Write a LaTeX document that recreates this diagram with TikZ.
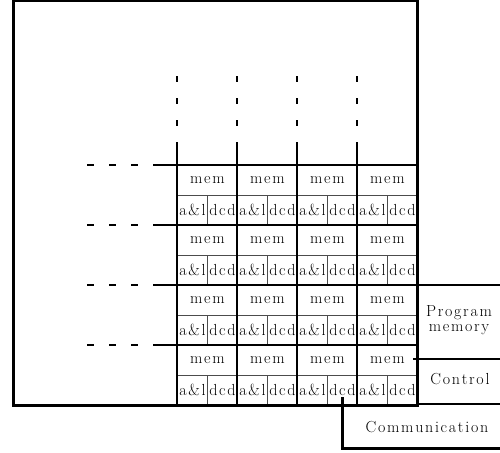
\documentclass[tikz,border=0pt]{standalone}
% spread the letters of a word apart
\newcommand\spreadword[1]{\spreadloop#1\relax}
\def\spreadloop#1{\ifx#1\relax\unkern\else#1\kern1.7pt\expandafter\spreadloop\fi}
\begin{document}
\begin{tikzpicture}[x=1pt,y=-1pt,
  txt/.style={font=\fontsize{16}{16}\selectfont},
  cellbox/.style={draw=black!70,line width=0.8pt,inner sep=0pt,anchor=north west,txt},
  memcell/.style={cellbox,minimum width=60pt,minimum height=30pt},
  halfcell/.style={cellbox,minimum width=30pt,minimum height=30pt},
  bus/.style={line width=2pt},
  busdash/.style={line width=2pt,dash pattern=on 6pt off 16pt},
  rowdash/.style={line width=2pt,dash pattern=on 7pt off 15pt},
  frame/.style={line width=3pt},
  side/.style={line width=2.5pt},
  label/.style={txt,inner sep=0pt,anchor=base}]
\useasboundingbox (0,0) rectangle (500,452);

% processing element array: 4 x 4 cells
\foreach \r in {0,...,3}{
  \foreach \c in {0,...,3}{
    \pgfmathsetmacro{\xx}{177+60*\c}
    \pgfmathsetmacro{\yy}{165+60*\r}
    \node[memcell] (mem-\r-\c) at (\xx,\yy) {\spreadword{mem}};
    \node[halfcell] (al-\r-\c) at (\xx,\yy+30) {\spreadword{a\&l}};
    \node[halfcell] (dcd-\r-\c) at (\xx+30,\yy+30) {\spreadword{dcd}};
  }
}

% column buses, continued upwards
\foreach \c in {0,...,3}{
  \draw[bus] (177+60*\c,144) -- (177+60*\c,405);
  \draw[busdash] (177+60*\c,76) -- (177+60*\c,144);
}
% row buses, continued leftwards
\foreach \r in {0,...,3}{
  \draw[bus] (155,165+60*\r) -- (417,165+60*\r);
  \draw[rowdash] (87,165+60*\r) -- (155,165+60*\r);
}

% outer frame
\draw[frame] (13,1) rectangle (417,405);

% side units
\coordinate (pmTL) at (417,285);
\coordinate (pmTR) at (500,285);
\coordinate (ctTL) at (413,359);
\coordinate (ctTR) at (500,359);
\coordinate (ctBL) at (417,404);
\coordinate (ctBR) at (500,404);
\coordinate (cmTL) at (342,397);
\coordinate (cmBL) at (342,448);
\coordinate (cmBR) at (500,448);
\draw[side] (pmTL) -- (pmTR);
\draw[side] (ctTL) -- (ctTR);
\draw[line width=1.5pt] (ctBL) -- (ctBR);
\draw[frame] (cmTL) -- (cmBL) -- (cmBR);

\node[label] (prog) at (459,316) {\spreadword{Program}};
\node[label] (memory) at (459,331) {\spreadword{memory}};
\node[label] (control) at (460,384) {\spreadword{Control}};
\node[label] (comm) at (427,432) {\spreadword{Communication}};
\end{tikzpicture}
\end{document}
